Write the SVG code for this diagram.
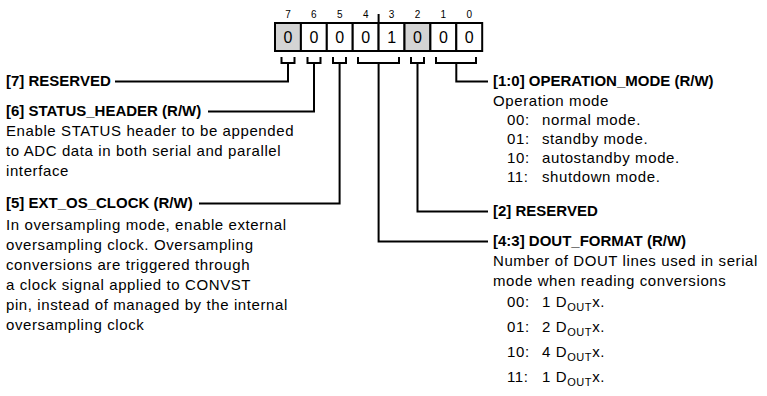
<svg xmlns="http://www.w3.org/2000/svg" width="767" height="396" viewBox="0 0 767 396">
<style>
text{font-family:"Liberation Sans",Arial,sans-serif;fill:#000}
.h{font-weight:bold;font-size:15px}
.b{font-size:15px;letter-spacing:0.6px}
.bit{font-size:10px;text-anchor:middle}
.val{font-size:16px;text-anchor:middle}
.cell{fill:#fff;stroke:#000;stroke-width:2}
.res{fill:#d4d4d4}
.ln{fill:none;stroke:#000;stroke-width:2}
.sub{font-size:11px}
</style>
<rect width="767" height="396" fill="#fff"/>
<g id="register">
<rect class="cell res" x="275" y="23" width="25.9" height="28"/>
<rect class="cell" x="300.9" y="23" width="25.9" height="28"/>
<rect class="cell" x="326.8" y="23" width="25.9" height="28"/>
<rect class="cell" x="352.7" y="23" width="25.9" height="28"/>
<rect class="cell" x="378.6" y="23" width="25.9" height="28"/>
<rect class="cell res" x="404.5" y="23" width="25.9" height="28"/>
<rect class="cell" x="430.4" y="23" width="25.9" height="28"/>
<rect class="cell" x="456.3" y="23" width="25.9" height="28"/>
<text class="val" x="288" y="43">0</text>
<text class="val" x="313.9" y="43">0</text>
<text class="val" x="339.8" y="43">0</text>
<text class="val" x="365.7" y="43">0</text>
<text class="val" x="391.6" y="43">1</text>
<text class="val" x="417.5" y="43">0</text>
<text class="val" x="443.4" y="43">0</text>
<text class="val" x="469.3" y="43">0</text>
<text class="bit" x="288" y="18">7</text>
<text class="bit" x="313.9" y="18">6</text>
<text class="bit" x="339.8" y="18">5</text>
<text class="bit" x="365.7" y="18">4</text>
<text class="bit" x="391.6" y="18">3</text>
<text class="bit" x="417.5" y="18">2</text>
<text class="bit" x="443.4" y="18">1</text>
<text class="bit" x="469.3" y="18">0</text>
<path class="ln" d="M378.6,14V23"/>
</g>
<g id="connectors">
<path class="ln" d="M281.5,57V63H294.5V57M288,63V81.5H115"/>
<path class="ln" d="M307.5,57V63H320.5V57M314,63V111.5H208"/>
<path class="ln" d="M333,57V63H346V57M339.6,63V203.5H199"/>
<path class="ln" d="M358,57V63H399V57M378.6,63V241.5H488"/>
<path class="ln" d="M411,57V63H424V57M417.5,63V211.5H488"/>
<path class="ln" d="M436,57V63H476V57M456.3,63V81.5H488"/>
</g>
<g id="field7">
<text class="h" x="6" y="86">[7] RESERVED</text>
</g>
<g id="field6">
<text class="h" x="6" y="116">[6] STATUS_HEADER (R/W)</text>
<text class="b" x="6" y="136">Enable STATUS header to be appended</text>
<text class="b" x="6" y="156">to ADC data in both serial and parallel</text>
<text class="b" x="6" y="176">interface</text>
</g>
<g id="field5">
<text class="h" x="6" y="208">[5] EXT_OS_CLOCK (R/W)</text>
<text class="b" x="6" y="230">In oversampling mode, enable external</text>
<text class="b" x="6" y="250">oversampling clock. Oversampling</text>
<text class="b" x="6" y="270">conversions are triggered through</text>
<text class="b" x="6" y="290">a clock signal applied to CONVST</text>
<text class="b" x="6" y="310">pin, instead of managed by the internal</text>
<text class="b" x="6" y="330">oversampling clock</text>
</g>
<g id="field1_0">
<text class="h" x="493" y="86">[1:0] OPERATION_MODE (R/W)</text>
<text class="b" x="493" y="105.5">Operation mode</text>
<text class="b" x="507" y="125">00:</text><text class="b" x="542" y="125">normal mode.</text>
<text class="b" x="507" y="144">01:</text><text class="b" x="542" y="144">standby mode.</text>
<text class="b" x="507" y="163">10:</text><text class="b" x="542" y="163">autostandby mode.</text>
<text class="b" x="507" y="182">11:</text><text class="b" x="542" y="182">shutdown mode.</text>
</g>
<g id="field2">
<text class="h" x="493" y="216">[2] RESERVED</text>
</g>
<g id="field4_3">
<text class="h" x="493" y="246">[4:3] DOUT_FORMAT (R/W)</text>
<text class="b" x="493" y="266">Number of DOUT lines used in serial</text>
<text class="b" x="493" y="286">mode when reading conversions</text>
<text class="b" x="507" y="307">00:</text><text class="b" x="542" y="307">1 D<tspan class="sub" dy="4">OUT</tspan><tspan dy="-4">x.</tspan></text>
<text class="b" x="507" y="332">01:</text><text class="b" x="542" y="332">2 D<tspan class="sub" dy="4">OUT</tspan><tspan dy="-4">x.</tspan></text>
<text class="b" x="507" y="357">10:</text><text class="b" x="542" y="357">4 D<tspan class="sub" dy="4">OUT</tspan><tspan dy="-4">x.</tspan></text>
<text class="b" x="507" y="382">11:</text><text class="b" x="542" y="382">1 D<tspan class="sub" dy="4">OUT</tspan><tspan dy="-4">x.</tspan></text>
</g>
</svg>
